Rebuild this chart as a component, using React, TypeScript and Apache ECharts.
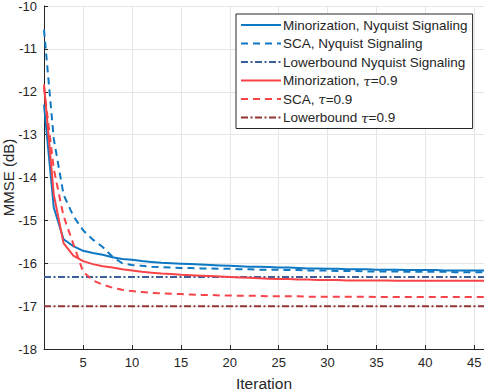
import React, { useEffect, useRef } from "react";
import * as echarts from "echarts";

const iterations = Array.from({ length: 46 }, (_, i) => i + 1);

const minNyq: number[] = [
  -12.3, -14.7, -15.44, -15.6, -15.71, -15.76, -15.8, -15.86, -15.9, -15.92,
  -15.95, -15.97, -15.99, -16.0, -16.01, -16.02, -16.03, -16.04, -16.05, -16.06,
  -16.07, -16.08, -16.08, -16.09, -16.1, -16.1, -16.11, -16.12, -16.12, -16.13,
  -16.13, -16.14, -16.14, -16.14, -16.15, -16.15, -16.15, -16.16, -16.16, -16.16,
  -16.16, -16.17, -16.17, -16.17, -16.17, -16.17,
];
const scaNyq: number[] = [
  -10.55, -13.1, -14.4, -14.9, -15.23, -15.45, -15.62, -15.85, -16.0, -16.04,
  -16.06, -16.08, -16.09, -16.1, -16.11, -16.11, -16.12, -16.12, -16.13, -16.13,
  -16.14, -16.14, -16.15, -16.15, -16.15, -16.16, -16.16, -16.17, -16.17, -16.17,
  -16.18, -16.18, -16.18, -16.19, -16.19, -16.19, -16.19, -16.2, -16.2, -16.2,
  -16.2, -16.2, -16.21, -16.21, -16.21, -16.21,
];
const minTau: number[] = [
  -11.83, -14.4, -15.53, -15.82, -15.95, -16.02, -16.07, -16.1, -16.14, -16.17,
  -16.2, -16.22, -16.24, -16.25, -16.27, -16.28, -16.29, -16.3, -16.31, -16.32,
  -16.33, -16.34, -16.35, -16.36, -16.37, -16.37, -16.38, -16.38, -16.39, -16.39,
  -16.39, -16.4, -16.4, -16.4, -16.4, -16.4, -16.41, -16.41, -16.41, -16.41,
  -16.41, -16.41, -16.41, -16.41, -16.41, -16.41,
];
const scaTau: number[] = [
  -11.9, -13.8, -14.9, -15.55, -16.2, -16.4, -16.5, -16.57, -16.62, -16.65,
  -16.67, -16.69, -16.7, -16.71, -16.72, -16.73, -16.74, -16.74, -16.75, -16.75,
  -16.76, -16.76, -16.76, -16.77, -16.77, -16.77, -16.77, -16.78, -16.78, -16.78,
  -16.78, -16.78, -16.78, -16.78, -16.79, -16.79, -16.79, -16.79, -16.79, -16.79,
  -16.79, -16.79, -16.79, -16.79, -16.79, -16.79,
];
const lowerNyq = -16.32;
const lowerTau = -17.0;

const xTicks = [5, 10, 15, 20, 25, 30, 35, 40, 45];

const seriesNames = [
  "Minorization, Nyquist Signaling",
  "SCA, Nyquist Signaling",
  "Lowerbound Nyquist Signaling",
  "Minorization, τ=0.9",
  "SCA, τ=0.9",
  "Lowerbound τ=0.9",
];

const FONT = "'Liberation Sans', Arial, Helvetica, sans-serif";
const TXT = "#262626";
const DASH = [7, 5];
const DASHDOT = [7, 2.5, 2, 2.5];

export default function App() {
  const ref = useRef<HTMLDivElement>(null);
  useEffect(() => {
    if (!ref.current) return;
    const chart = echarts.init(ref.current, undefined, { renderer: "svg" });
    const pair = (arr: number[]) => iterations.map((x, i) => [x, arr[i]]);
    const flat = (v: number) => iterations.map((x) => [x, v]);
    const mk = (name: string, data: number[][], color: string, type: any) => ({
      name,
      type: "line",
      data,
      symbol: "none",
      showSymbol: false,
      smooth: false,
      lineStyle: { color, width: 2, type },
      itemStyle: { color },
      z: 3,
    });
    chart.setOption({
      animation: false,
      textStyle: { fontFamily: FONT },
      grid: { left: 44, right: 0, top: 6, bottom: 43, containLabel: false, outerBoundsMode: "none" },
      xAxis: {
        type: "value",
        min: 1,
        max: 46,
        name: "Iteration",
        nameLocation: "middle",
        nameGap: 26,
        nameMoveOverlap: false,
        nameTextStyle: { color: TXT, fontSize: 15.5, fontFamily: FONT },
        axisLine: { show: true, lineStyle: { color: TXT, width: 1 } },
        axisTick: { show: true, inside: true, length: 4, customValues: xTicks, lineStyle: { color: TXT } },
        axisLabel: { customValues: xTicks, color: TXT, fontSize: 13, margin: 7, fontFamily: FONT },
        splitLine: { show: true, lineStyle: { color: "#e6e6e6", width: 1 } },
      },
      yAxis: {
        type: "value",
        min: -18,
        max: -10,
        interval: 1,
        name: "MMSE (dB)",
        nameLocation: "middle",
        nameGap: 28,
        nameMoveOverlap: false,
        nameTextStyle: { color: TXT, fontSize: 15, fontFamily: FONT },
        axisLine: { show: true, lineStyle: { color: TXT, width: 1 } },
        axisTick: { show: true, inside: true, length: 4, lineStyle: { color: TXT } },
        axisLabel: { color: TXT, fontSize: 13, margin: 7, fontFamily: FONT },
        splitLine: { show: true, lineStyle: { color: "#e6e6e6", width: 1 } },
      },
      legend: {
        orient: "vertical",
        left: 236,
        top: 14,
        width: 235,
        itemWidth: 40,
        itemHeight: 14,
        itemGap: 4.5,
        padding: [4, 5, 4, 4],
        backgroundColor: "#ffffff",
        borderColor: TXT,
        borderWidth: 1,
        borderRadius: 0,
        itemStyle: { opacity: 0 },
        data: seriesNames,
        formatter: (name: string) => name.replace("τ", "{i|τ}"),
        textStyle: {
          color: TXT,
          fontSize: 13.5,
          fontFamily: FONT,
          padding: [0, 0, 0, -3],
          rich: {
            i: { fontStyle: "italic", fontSize: 13.5, fontFamily: "'DejaVu Serif', serif", color: TXT },
          },
        },
      },
      series: [
        mk(seriesNames[0], pair(minNyq), "#0f78c2", "solid"),
        mk(seriesNames[1], pair(scaNyq), "#0f78c2", DASH),
        mk(seriesNames[2], flat(lowerNyq), "#3d5f99", DASHDOT),
        mk(seriesNames[3], pair(minTau), "#f84348", "solid"),
        mk(seriesNames[4], pair(scaTau), "#f84348", DASH),
        mk(seriesNames[5], flat(lowerTau), "#933535", DASHDOT),
      ],
    });
    return () => chart.dispose();
  }, []);
  return <div ref={ref} style={{ width: 484, height: 392, position: "absolute", left: 0, top: 0 }} />;
}
